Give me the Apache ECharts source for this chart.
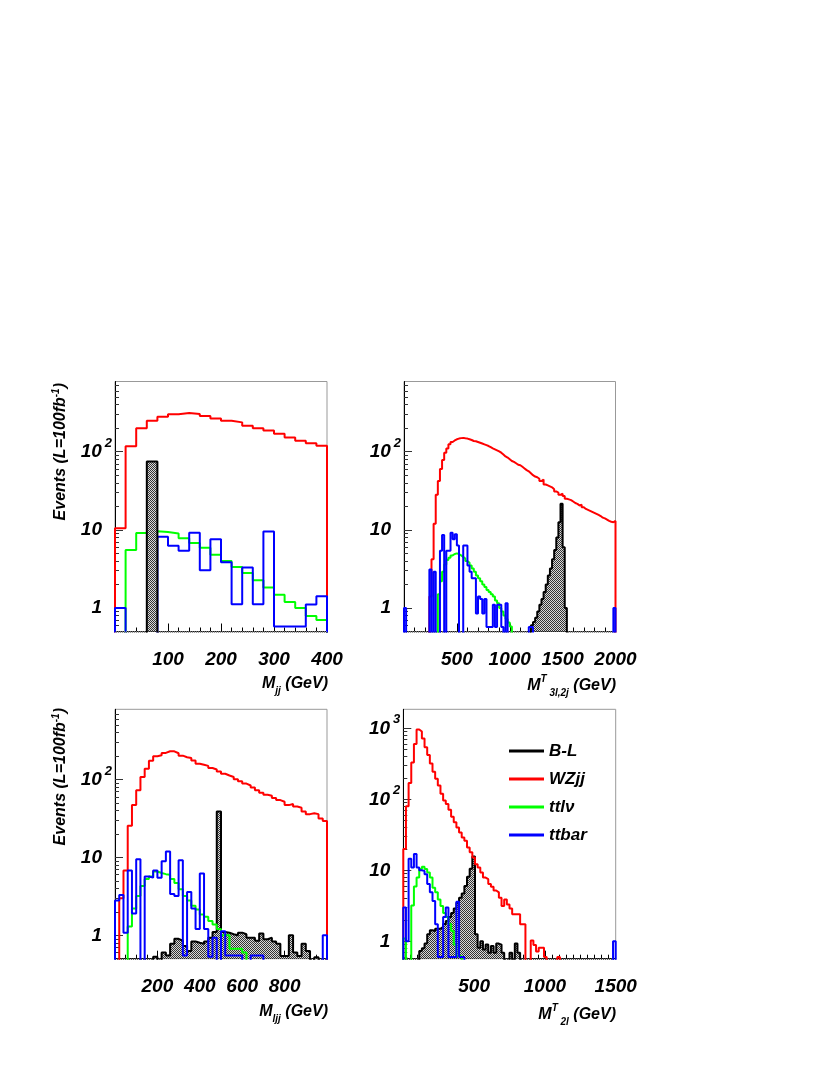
<!DOCTYPE html>
<html>
<head>
<meta charset="utf-8">
<script src="https://cdn.jsdelivr.net/npm/echarts@6.0.0/dist/echarts.min.js"></script>
<style>
  html, body { margin: 0; background: #fff; }
  #chart { width: 830px; height: 1075px; }
</style>
</head>
<body>
<div id="chart"></div>
<script>
// ---- data (events per bin) ----
// top-left: M_jj, 0-400 GeV, 20 GeV bins
var tlBL    = [0, 0, 0, 75, 0, 0, 0, 0, 0, 0, 0, 0, 0, 0, 0, 0, 0, 0, 0, 0];
var tlWZ    = [10.5, 117, 200, 249, 280, 300, 312, 303, 285, 266, 249, 237, 215, 200, 187, 170, 152, 138, 128, 119];
var tlTTLV  = [0, 5.5, 9.1, 9.6, 9.4, 9.0, 7.8, 6.8, 5.9, 4.8, 4.0, 3.35, 2.8, 2.27, 1.83, 1.48, 1.19, 1.0, 0.79, 0.70];
var tlTTBAR = [1.0, 0, 0, 0, 8.15, 6.26, 5.4, 9.2, 3.04, 7.6, 3.84, 1.12, 3.29, 1.12, 9.5, 0.58, 0.58, 0.58, 1.11, 1.41];

// top-right: M^T_3l,2j, 0-2000 GeV, 20 GeV bins
var trBL = [0, 0, 0, 0, 0, 0, 0, 0, 0, 0, 0, 0, 0, 0, 0, 0, 0, 0, 0, 0,
  0, 0, 0, 0, 0, 0, 0, 0, 0, 0, 0, 0, 0, 0, 0, 0, 0, 0, 0, 0,
  0, 0, 0, 0, 0, 0, 0, 0, 0, 0, 0, 0, 0, 0, 0, 0, 0, 0, 0, 0,
  0.6, 0.66, 0.75, 0.9, 1.1, 1.3, 1.6, 2.0, 2.6, 3.2, 4.2, 5.5, 8.0, 12.5, 21.5, 6.0, 1.0, 0, 0, 0,
  0, 0, 0, 0, 0, 0, 0, 0, 0, 0, 0, 0, 0, 0, 0, 0, 0, 0, 0, 0];
var trWZ = [0, 0, 0, 0, 0, 0, 0, 0, 0, 0, 0, 0, 1.4, 4.2, 12, 28, 42, 60, 78, 97,
  110, 124, 133, 139, 144, 147, 149, 150, 148, 147, 144, 141, 137, 136, 133, 130, 127, 124, 121, 118,
  114, 110, 107, 104, 101, 97, 92, 87, 84, 80, 76, 74, 71, 68, 67, 64, 61, 58, 56, 53,
  50, 48, 47, 45, 42, 44, 38, 37, 36, 35, 33, 31, 30, 28, 29, 27, 25, 24.5, 24, 23,
  22, 21.5, 20.5, 21, 19.5, 18.5, 18, 17.5, 17, 16.5, 16, 15.5, 15, 14.3, 14, 13.5, 13, 12.7, 12.5, 13];
var trTTLV = [0, 0, 0, 0, 0, 0, 0, 0, 0, 0, 0, 0, 0, 0, 0, 0, 1.5, 2.2, 2.9, 3.6,
  4.1, 4.4, 4.7, 4.9, 5.0, 4.9, 4.7, 4.5, 4.3, 4.0, 3.8, 3.5, 3.2, 2.9, 2.6, 2.4, 2.2, 2.0, 1.85, 1.7,
  1.6, 1.5, 1.4, 1.25, 1.15, 1.0, 0.9, 0.8, 0.72, 0.65, 0.58, 0, 0, 0, 0, 0, 0, 0, 0, 0,
  0, 0, 0, 0, 0, 0, 0, 0, 0, 0, 0, 0, 0, 0, 0, 0, 0, 0, 0, 0,
  0, 0, 0, 0, 0, 0, 0, 0, 0, 0, 0, 0, 0, 0, 0, 0, 0, 0, 0, 0];
var trTTBAR = [1.0, 0, 0, 0, 0, 0, 0, 0, 0, 0, 0, 0, 3.1, 0, 2.9, 0, 0, 5.4, 8.6, 0,
  5.4, 5.4, 9.2, 7.6, 8.8, 6.3, 0, 0, 6.3, 6.3, 3.5, 2.9, 2.4, 2.4, 0.85, 1.4, 1.3, 0.85, 1.3, 0.57,
  0.57, 0.57, 1.1, 0.57, 1.1, 1.1, 0.57, 0, 1.15, 0, 0, 0, 0, 0, 0, 0, 0, 0, 0, 0.57,
  0.57, 0, 0, 0, 0, 0, 0, 0, 0, 0, 0, 0, 0, 0, 0, 0, 0, 0, 0, 0,
  0, 0, 0, 0, 0, 0, 0, 0, 0, 0, 0, 0, 0, 0, 0, 0, 0, 0, 0, 1.0];

// bottom-left: M_ljj, 0-1000 GeV, 20 GeV bins
var blBL = [0, 0, 0, 0, 0, 0, 0, 0, 0, 0.53, 0, 0.6, 0.55, 0.78, 0.9, 0.85, 0.73, 0.63, 0.83, 0.8,
  0.78, 0.83, 0.93, 1.1, 39, 1.1, 1.08, 1.03, 1.0, 1.08, 1.03, 0.93, 0.93, 0.85, 1.05, 0.89, 0.93, 0.83, 0.78, 0.54,
  0.54, 1.0, 0.6, 0.54, 0.78, 0.63, 0, 0.52, 0, 0];
var blWZ = [0, 3.0, 6.8, 25.5, 47, 73, 108, 138, 174, 199, 205, 220, 231, 231, 218, 203, 194, 189, 176, 160,
  155, 150, 141, 135, 127, 119, 113, 108, 101, 95, 89, 84, 79, 73, 68, 64, 62, 58, 54.5, 52,
  47, 48.5, 45, 43.5, 39, 36, 37, 36, 31.7, 29.4];
var blTTLV = [0, 0, 0, 1.3, 2.2, 3.2, 4.3, 5.3, 5.7, 6.6, 6.3, 6.1, 6.0, 5.3, 4.7, 3.9, 3.2, 2.8, 2.4, 2.15,
  1.85, 1.73, 1.52, 1.38, 1.2, 1.0, 1.0, 0.67, 0.67, 0.67, 0.6, 0, 0, 0, 0, 0, 0, 0, 0, 0,
  0, 0, 0, 0, 0, 0, 0, 0, 0, 0];
var blTTBAR = [2.8, 3.3, 1.08, 6.8, 1.9, 9.5, 0, 5.7, 5.5, 6.8, 5.5, 8.9, 11.9, 3.4, 3.2, 9.2, 0.55, 3.6, 2.2, 1.2,
  6.2, 1.2, 0.53, 0.93, 0, 1.13, 0.55, 0.55, 0.55, 0.55, 0, 0, 0.55, 0.55, 0.55, 0, 0, 0, 0, 0,
  0, 0, 0, 0, 0, 0, 0, 0, 0, 1.0];

// bottom-right: M^T_2l, 0-1500 GeV, 18.75 GeV bins
var brBL = [0, 0, 0, 0, 0, 0, 0.73, 0.8, 0.93, 1.26, 1.43, 1.4, 1.5, 1.5, 1.6, 1.75, 1.94, 2.2, 2.5, 2.9,
  3.5, 4.1, 4.7, 6.0, 8.1, 10.5, 15.7, 1.26, 0.81, 1.0, 0.77, 0.9, 0.69, 0.86, 0.69, 0.93, 0.9, 0.69, 0, 0,
  0.69, 0, 0.93, 0.69, 0, 0, 0, 0, 0, 0, 0, 0, 0, 0, 0, 0, 0, 0, 0, 0,
  0, 0, 0, 0, 0, 0, 0, 0, 0, 0, 0, 0, 0, 0, 0, 0, 0, 0, 0, 0];
var brWZ = [20, 80, 170, 330, 600, 960, 900, 720, 540, 420, 320, 245, 195, 156, 120, 96, 86, 71, 57, 47.5,
  40, 34, 29, 26, 21, 17.9, 15.2, 12.2, 11, 9.3, 7.9, 7.5, 6.4, 5.85, 5.2, 4.9, 4.1, 3.15, 3.9, 3.3,
  2.9, 2.4, 2.4, 2.4, 1.74, 1.74, 0, 0, 1.03, 0.89, 0.72, 0.81, 0.81, 0.6, 0, 0, 0, 0, 0.6, 0,
  0, 0, 0, 0, 0, 0, 0, 0, 0, 0, 0, 0, 0, 0, 0, 0, 0, 0, 0, 0];
var brTTLV = [1.1, 0, 0, 3.2, 5.9, 7.9, 10.4, 11.2, 10.4, 9.3, 7.9, 5.7, 4.9, 3.9, 3.15, 2.5, 2.2, 1.75, 1.4, 0.9,
  0.62, 0.62, 0, 0, 0, 0, 0, 0, 0, 0, 0, 0, 0, 0, 0, 0, 0, 0, 0, 0,
  0, 0, 0, 0, 0, 0, 0, 0, 0, 0, 0, 0, 0, 0, 0, 0, 0, 0, 0, 0,
  0, 0, 0, 0, 0, 0, 0, 0, 0, 0, 0, 0, 0, 0, 0, 0, 0, 0, 0, 0];
var brTTBAR = [3.0, 1.0, 14.5, 11, 17, 11, 10, 9.8, 8.8, 6.4, 4.9, 3.7, 1.74, 0.6, 0.6, 2.2, 3.0, 0.6, 0.6, 0.6,
  3.6, 0.6, 0.6, 0, 0, 0, 0, 0, 0, 0, 0, 0, 0, 0, 0, 0, 0, 0, 0, 0,
  0, 0, 0, 0, 0, 0, 0, 0, 0, 0, 0, 0, 0, 0, 0, 0, 0, 0, 0, 0,
  0, 0, 0, 0, 0, 0, 0, 0, 0, 0, 0, 0, 0, 0, 0, 0, 0, 0, 0, 1.0];

// tick labels
var tlXLabels = [100, 200, 300, 400];
var trXLabels = [500, 1000, 1500, 2000];
var blXLabels = [200, 400, 600, 800];
var brXLabels = [500, 1000, 1500];
var topYLabels = [1, 10, 100];
var brYLabels = [1, 10, 100, 1000];

var seriesNames = ['B-L', 'WZjj', 'ttl\u03bd', 'ttbar'];
var seriesColors = ['#000000', '#ff0000', '#00ff00', '#0000ff'];

// ---- layout ----
var FONT = "'Liberation Sans', Arial, Helvetica, sans-serif";
var FLOOR = 1e-3; // empty bins: drawn below the axis floor and clipped

var panels = [
  { grid: { left: 115, top: 381.5, width: 212, height: 250 }, xMax: 400, bw: 20, xStep: 100, xMinor: 5,
    yMin: 0.5, yMax: 790, xLabels: tlXLabels, yLabels: topYLabels, blTop: true,
    hists: [tlBL, tlWZ, tlTTLV, tlTTBAR] },
  { grid: { left: 404, top: 381.5, width: 211.5, height: 250 }, xMax: 2000, bw: 20, xStep: 500, xMinor: 5,
    yMin: 0.5, yMax: 790, xLabels: trXLabels, yLabels: topYLabels, blTop: false,
    hists: [trBL, trWZ, trTTLV, trTTBAR] },
  { grid: { left: 115, top: 709.3, width: 212, height: 249.4 }, xMax: 1000, bw: 20, xStep: 200, xMinor: 4,
    yMin: 0.5, yMax: 800, xLabels: blXLabels, yLabels: topYLabels, blTop: false,
    hists: [blBL, blWZ, blTTLV, blTTBAR] },
  { grid: { left: 403.3, top: 709.3, width: 212.4, height: 249.4 }, xMax: 1500, bw: 18.75, xStep: 500, xMinor: 10,
    yMin: 0.57, yMax: 1850, xLabels: brXLabels, yLabels: brYLabels, blTop: false,
    hists: [brBL, brWZ, brTTLV, brTTBAR] }
];

// dotted fill used by ROOT for the signal histogram
var pat = document.createElement('canvas');
pat.width = 2; pat.height = 2;
var pc = pat.getContext('2d');
pc.fillStyle = '#d8d8d8'; pc.fillRect(0, 0, 2, 2);
pc.fillStyle = '#333333'; pc.fillRect(0, 0, 1, 1); pc.fillRect(1, 1, 1, 1);

function histLine(values, bw) {
  var pts = [[0, FLOOR]];
  values.forEach(function (v, k) {
    var y = v > 0 ? v : FLOOR;
    pts.push([k * bw, y], [(k + 1) * bw, y]);
  });
  pts.push([values.length * bw, FLOOR]);
  return pts;
}

function minorLogTicks(lo, hi) {
  var out = [];
  for (var d = -1; d <= 3; d++) {
    for (var m = 2; m <= 9; m++) {
      var v = m * Math.pow(10, d);
      if (v > lo * 1.001 && v < hi) out.push(v);
    }
  }
  return out;
}

var labelFont = { fontFamily: FONT, fontWeight: 'bold', fontStyle: 'italic', color: '#000' };
function rs(size, pad) {
  return Object.assign({ fontSize: size, verticalAlign: 'bottom', padding: pad }, labelFont);
}

var grids = [], xAxes = [], yAxes = [], series = [];
panels.forEach(function (p, i) {
  grids.push(Object.assign({ show: true, borderColor: '#999', borderWidth: 1, containLabel: false }, p.grid));
  xAxes.push({
    gridIndex: i, type: 'value', min: 0, max: p.xMax, interval: p.xStep,
    axisLine: { onZero: false, lineStyle: { color: '#000', width: 1 } },
    axisTick: { inside: true, length: 8, lineStyle: { color: '#000' } },
    minorTick: { show: true, splitNumber: p.xMinor, length: 4, lineStyle: { color: '#000' } },
    axisLabel: Object.assign({
      customValues: p.xLabels, margin: 19, fontSize: 19,
      formatter: function (v) { return String(v); }
    }, labelFont),
    splitLine: { show: false }
  });
  yAxes.push({
    gridIndex: i, type: 'log', logBase: 10, min: p.yMin, max: p.yMax,
    axisLine: { onZero: false, lineStyle: { color: '#000', width: 1 } },
    axisTick: { inside: true, length: 8, customValues: p.yLabels, lineStyle: { color: '#333' } },
    axisLabel: {
      customValues: p.yLabels, margin: 3,
      formatter: function (v) {
        var e = Math.round(Math.log(v) / Math.LN10);
        return e <= 1 ? '{n|' + Math.round(v) + '}' : '{b|10}{e|' + e + '}';
      },
      rich: { n: rs(19, [0, 10, 0, 0]), b: rs(19, [0, 0, 5, 0]), e: rs(13, [0, 0, 17, 3]) }
    },
    splitLine: { show: false }
  });
  yAxes.push({
    gridIndex: i, type: 'log', logBase: 10, min: p.yMin, max: p.yMax, position: 'left',
    axisLine: { show: false },
    axisTick: { inside: true, length: 4, customValues: minorLogTicks(p.yMin, p.yMax), lineStyle: { color: '#333' } },
    axisLabel: { show: false },
    splitLine: { show: false }
  });
  p.hists.forEach(function (vals, s) {
    var ser = {
      name: seriesNames[s], type: 'line', xAxisIndex: i, yAxisIndex: 2 * i,
      data: histLine(vals, p.bw), showSymbol: false, silent: true, clip: true,
      lineStyle: { color: seriesColors[s], width: 2 },
      itemStyle: { color: seriesColors[s] },
      z: s === 0 ? (p.blTop ? 5 : 2) : 3
    };
    if (s === 0) ser.areaStyle = { color: { image: pat, repeat: 'repeat' }, origin: 'start', opacity: 1 };
    series.push(ser);
  });
});

function yTitle(x, y) {
  return {
    type: 'text', x: x, y: y, rotation: Math.PI / 2,
    style: {
      text: '{a|Events (L=100fb}{s|-1}{a|)}',
      rich: { a: rs(16, [0, 0, 0, 0]), s: rs(10, [0, 0, 8, 0]) },
      align: 'right', textAlign: 'right', verticalAlign: 'middle', textVerticalAlign: 'middle'
    }
  };
}
function xTitle(x, y, txt) {
  return {
    type: 'text', x: x, y: y,
    style: {
      text: txt,
      rich: { m: rs(16, [0, 0, 4, 0]), sub: rs(10, [0, 0, 0, 0]), sup: rs(10, [0, 0, 14, 0]) },
      align: 'right', textAlign: 'right', verticalAlign: 'middle', textVerticalAlign: 'middle'
    }
  };
}

var option = {
  backgroundColor: '#fff',
  animation: false,
  grid: grids,
  xAxis: xAxes,
  yAxis: yAxes,
  series: series,
  legend: {
    orient: 'vertical', left: 509, top: 741, padding: 0, itemWidth: 35, itemHeight: 3, itemGap: 8,
    icon: 'rect', selectedMode: false,
    data: seriesNames.map(function (n, s) { return { name: n, itemStyle: { color: seriesColors[s] } }; }),
    textStyle: Object.assign({ fontSize: 17, lineHeight: 20 }, labelFont)
  },
  graphic: [
    yTitle(60, 383),
    yTitle(60, 708),
    xTitle(328, 686, '{m|M}{sub|jj}{m| (GeV)}'),
    xTitle(616, 686, '{m|M}{sup|T}{sub| 3l,2j}{m| (GeV)}'),
    xTitle(328, 1014, '{m|M}{sub|ljj}{m| (GeV)}'),
    xTitle(616, 1015, '{m|M}{sup|T}{sub| 2l}{m| (GeV)}')
  ]
};

var chart = echarts.init(document.getElementById('chart'), null, { renderer: 'canvas' });
chart.setOption(option);
</script>
</body>
</html>
